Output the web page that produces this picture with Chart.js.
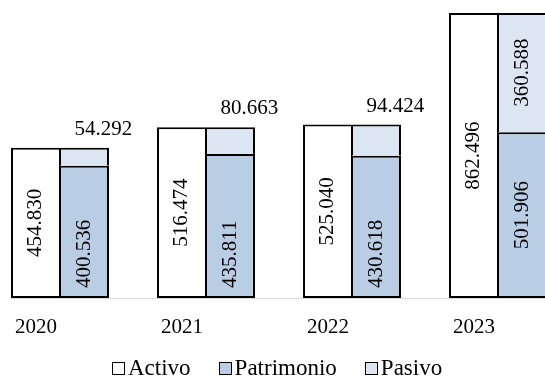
<!DOCTYPE html>
<html>
<head>
<meta charset="utf-8">
<script src="https://cdn.jsdelivr.net/npm/chart.js@4.4.1/dist/chart.umd.min.js"></script>
<style>
  html, body { margin: 0; padding: 0; background: #fff; overflow: hidden; }
  body { width: 545px; height: 378px; position: relative; }
  #wrap { position: absolute; left: -13px; top: 0; width: 584px; height: 378px; }
  #legend {
    position: absolute; left: 112px; top: 355px; display: flex;
    font-family: "Liberation Serif", "Times New Roman", serif;
    font-size: 23px; line-height: 26px; color: #000;
  }
  .item { display: flex; align-items: center; margin-right: 28px; }
  .box { width: 11px; height: 11px; border: 1px solid #000; margin-right: 3px; margin-top: 1px; }
</style>
</head>
<body>
<div id="wrap"><canvas id="chart"></canvas></div>
<div id="legend"></div>

<script>
/* ---- Data ---- */
const years      = ["2020", "2021", "2022", "2023"];
const activo     = [454830, 516474, 525040, 862496];
const patrimonio = [400536, 435811, 430618, 501906];
const pasivo     = [54292, 80663, 94424, 360588];
const yMax = 902000;

/* ---- Colors ---- */
const palette = {
  activo:     "#FFFFFF",
  patrimonio: "#B9CDE5",
  pasivo:     "#DCE6F2",
  border:     "#000000",
  axis:       "#D9D9D9"
};

const FONT = "'Liberation Serif', 'Times New Roman', serif";

const fmt = v => String(v).replace(/\B(?=(\d{3})+(?!\d))/g, ".");

/* ---- Value labels on the bars ---- */
const barLabels = {
  id: "barLabels",
  afterDatasetsDraw(chart) {
    const ctx = chart.ctx;
    ctx.save();
    ctx.font = "21px " + FONT;
    ctx.fillStyle = "#000";
    chart.data.datasets.forEach((ds, di) => {
      chart.getDatasetMeta(di).data.forEach((bar, i) => {
        const text = fmt(ds.data[i]);
        const tw = ctx.measureText(text).width;
        const top = bar.y, base = bar.base, h = base - top;

        // small Pasivo segments: label sits above the stack
        if (ds.label === "Pasivo" && h < tw + 10) {
          ctx.textAlign = "center";
          ctx.textBaseline = "alphabetic";
          ctx.fillText(text, bar.x + 19, top - 13);
          return;
        }

        let cy = (top + base) / 2;
        if (ds.label === "Patrimonio" && h < 150) cy = base - 10 - tw / 2;

        ctx.save();
        ctx.translate(bar.x, cy);
        ctx.rotate(-Math.PI / 2);
        ctx.textAlign = "center";
        ctx.textBaseline = "middle";
        ctx.fillText(text, 0, 0);
        ctx.restore();
      });
    });
    ctx.restore();
  }
};

/* ---- Grey baseline starting at the first bar ---- */
const baseline = {
  id: "baseline",
  afterDatasetsDraw(chart) {
    const first = chart.getDatasetMeta(0).data[0];
    const { ctx, chartArea } = chart;
    const y = chartArea.bottom + 0.5;
    ctx.save();
    ctx.strokeStyle = palette.axis;
    ctx.lineWidth = 1;
    ctx.beginPath();
    ctx.moveTo(first.x - first.width / 2, y);
    ctx.lineTo(chartArea.right, y);
    ctx.stroke();
    ctx.restore();
  }
};

new Chart(document.getElementById("chart"), {
  type: "bar",
  data: {
    labels: years,
    datasets: [
      {
        label: "Activo",
        data: activo,
        stack: "activo",
        backgroundColor: palette.activo,
        borderColor: palette.border,
        borderWidth: { top: 2, left: 2, bottom: 2, right: 1 },
        borderSkipped: false
      },
      {
        label: "Patrimonio",
        data: patrimonio,
        stack: "fuentes",
        backgroundColor: palette.patrimonio,
        borderColor: palette.border,
        borderWidth: { top: 2, left: 1, bottom: 2, right: 2 },
        borderSkipped: false
      },
      {
        label: "Pasivo",
        data: pasivo,
        stack: "fuentes",
        backgroundColor: palette.pasivo,
        borderColor: palette.border,
        borderWidth: { top: 2, left: 1, bottom: 0, right: 2 },
        borderSkipped: false
      }
    ]
  },
  options: {
    responsive: true,
    maintainAspectRatio: false,
    animation: false,
    layout: { padding: 0 },
    categoryPercentage: 0.671,
    barPercentage: 1,
    plugins: {
      legend: { display: false },
      tooltip: { enabled: false }
    },
    scales: {
      x: {
        stacked: true,
        grid: { display: false },
        border: { display: false },
        ticks: {
          color: "#000",
          font: { family: FONT, size: 21 },
          labelOffset: -24,
          padding: 9,
          maxRotation: 0
        },
        afterFit: s => { s.height = 80; }
      },
      y: {
        stacked: true,
        display: false,
        min: 0,
        max: yMax
      }
    }
  },
  plugins: [baseline, barLabels]
});

/* ---- Legend ---- */
const legendItems = [
  { label: "Activo", color: palette.activo },
  { label: "Patrimonio", color: palette.patrimonio },
  { label: "Pasivo", color: palette.pasivo }
];
document.getElementById("legend").innerHTML = legendItems.map(l => `
  <div class="item"><div class="box" style="background:${l.color}"></div>${l.label}</div>
`).join("");
</script>
</body>
</html>
